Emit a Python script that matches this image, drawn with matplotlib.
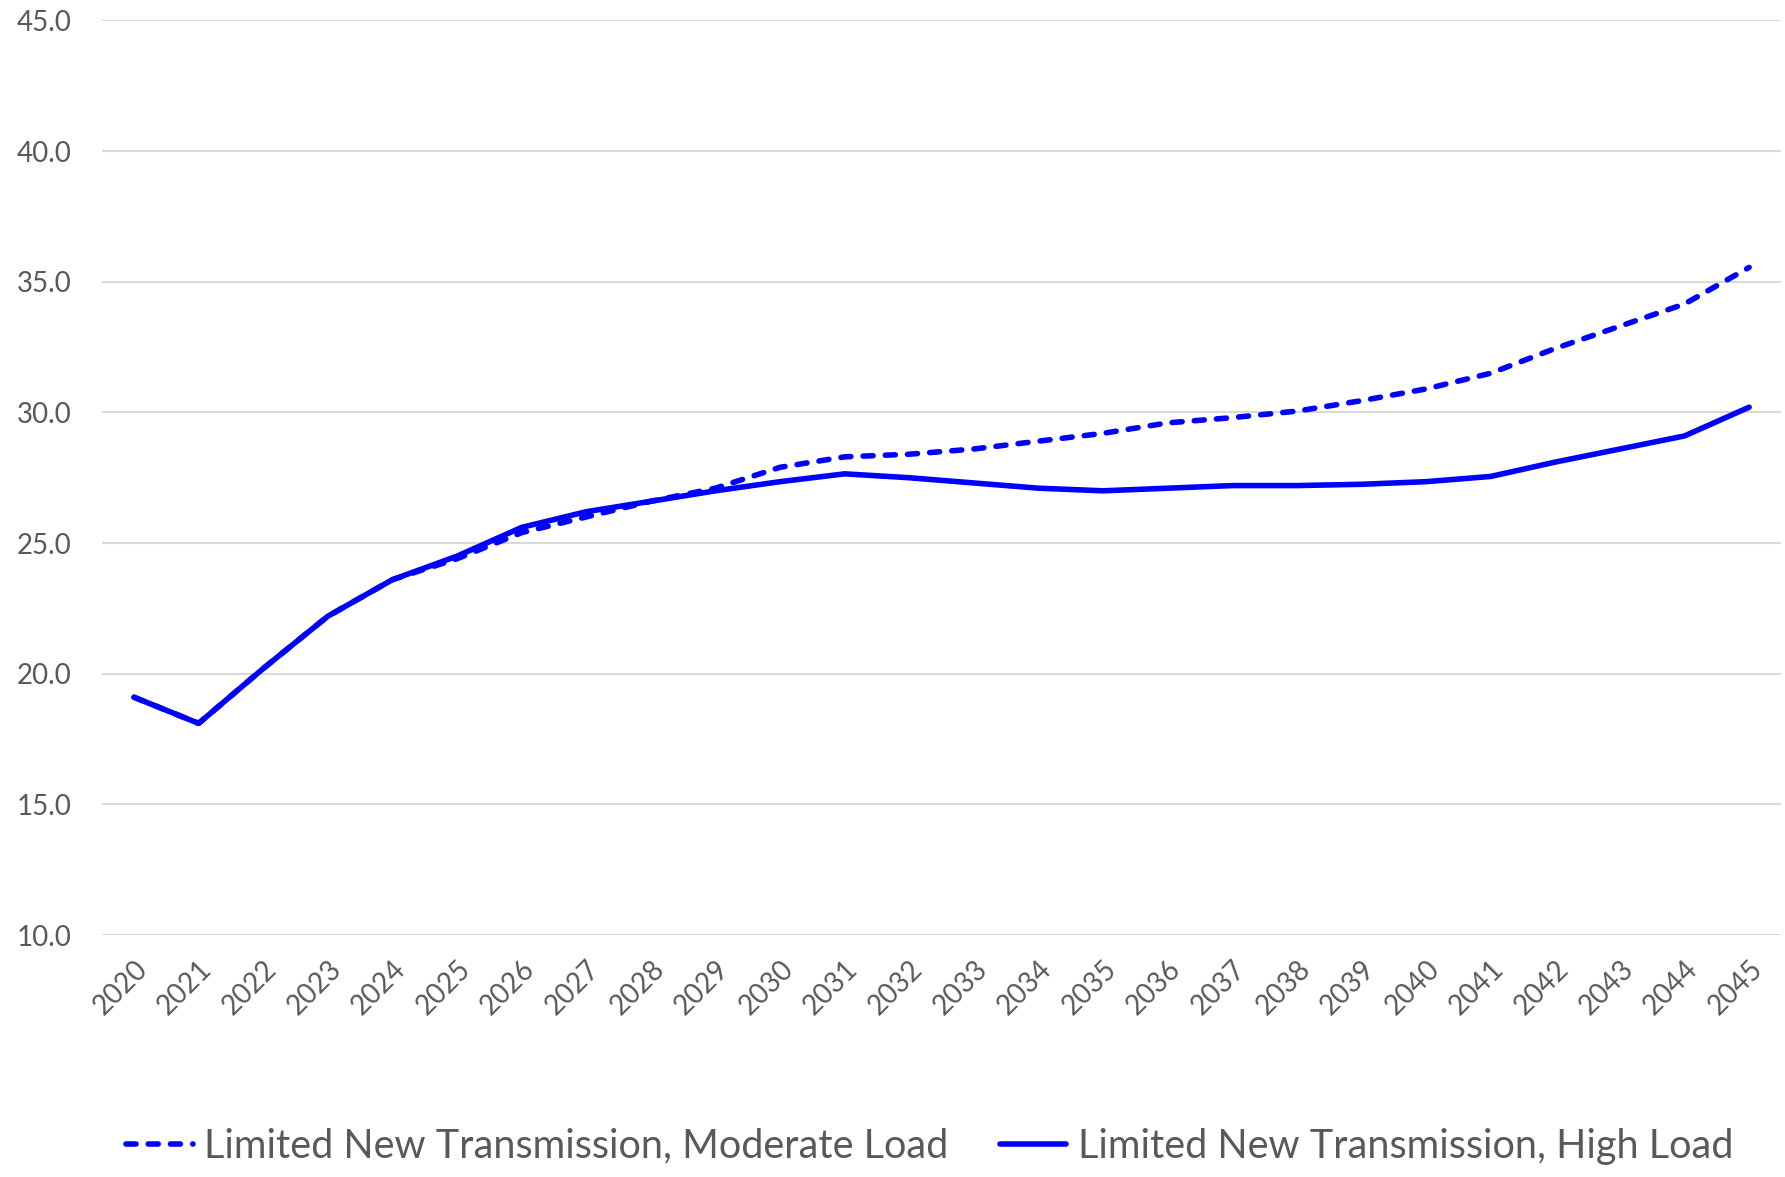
import matplotlib.pyplot as plt

plt.rcParams['font.family'] = ['Lato', 'DejaVu Sans']

years = [str(y) for y in range(2020, 2046)]
moderate_load = [19.1, 18.1, 20.2, 22.2, 23.6, 24.4, 25.4, 26.0, 26.6, 27.1,
                 27.9, 28.3, 28.4, 28.6, 28.9, 29.2, 29.6, 29.8, 30.05, 30.45,
                 30.9, 31.5, 32.45, 33.3, 34.15, 35.55]
high_load = [19.1, 18.1, 20.2, 22.2, 23.6, 24.5, 25.6, 26.2, 26.6, 27.0,
             27.35, 27.65, 27.5, 27.3, 27.1, 27.0, 27.1, 27.2, 27.2, 27.25,
             27.35, 27.55, 28.1, 28.6, 29.1, 30.2]
yticks = [10.0, 15.0, 20.0, 25.0, 30.0, 35.0, 40.0, 45.0]

fig = plt.figure(figsize=(17.85, 11.77), dpi=100)
ax = fig.add_axes([0.057, 0.2056, 0.941, 0.777])

x = range(len(years))
ax.plot(x, moderate_load, color='#0000FF', lw=4, dashes=(1.8, 2.2),
        dash_capstyle='round', solid_capstyle='round',
        label='Limited New Transmission, Moderate Load')
ax.plot(x, high_load, color='#0000FF', lw=4, solid_capstyle='round',
        label='Limited New Transmission, High Load')

ax.set_xlim(-0.5, len(years) - 0.5)
ax.set_ylim(10, 45)
ax.set_yticks(yticks)
ax.set_yticklabels([f'{v:.1f}' for v in yticks])
ax.set_xticks(list(x))
ax.set_xticklabels(years, rotation=45, ha='right', rotation_mode='anchor')
ax.tick_params(axis='both', length=0, labelsize=20, colors='#595959')
ax.tick_params(axis='y', pad=22)
ax.tick_params(axis='x', pad=15)
ax.grid(axis='y', color='#D9D9D9', lw=1.5)
ax.set_axisbelow(True)
for s in ax.spines.values():
    s.set_visible(False)

leg = fig.legend(loc='center', ncol=2, bbox_to_anchor=(0.521, 0.026),
                 frameon=False, fontsize=28.5, handlelength=1.67,
                 columnspacing=1.3, handletextpad=0.3)
for t in leg.get_texts():
    t.set_color('#595959')

fig.savefig('out.png', dpi=100)
